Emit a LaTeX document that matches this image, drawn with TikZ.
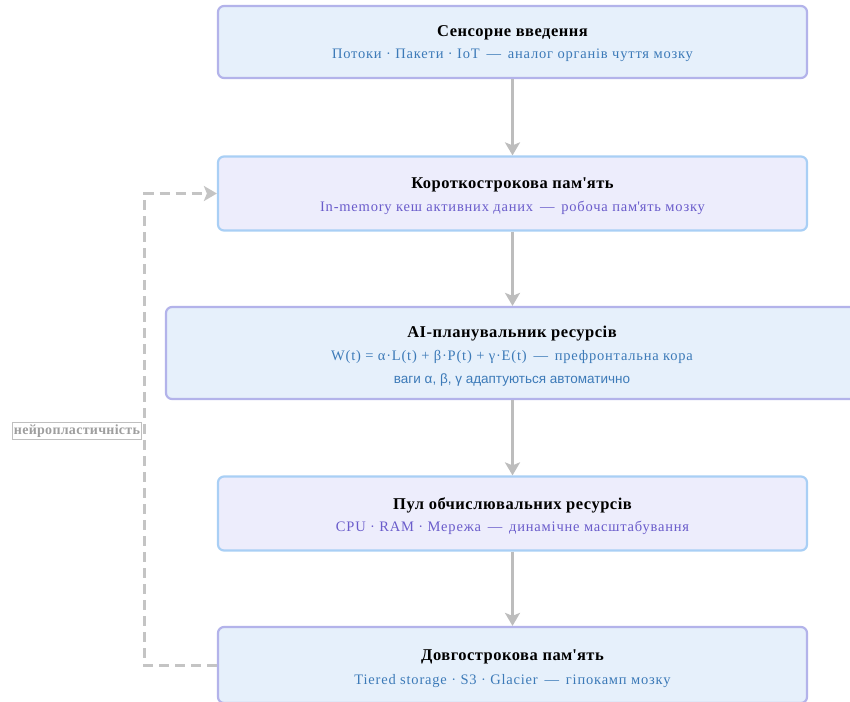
\documentclass[tikz,border=0pt]{standalone}
\usepackage{fontspec}
\setmainfont{Liberation Serif}
\newfontfamily\labelsans{Liberation Sans}
\usetikzlibrary{arrows.meta}

\definecolor{fillA}{HTML}{E6F0FB}
\definecolor{edgeA}{HTML}{B3B3EA}
\definecolor{fillB}{HTML}{EDEDFC}
\definecolor{edgeB}{HTML}{A9CFF5}
\definecolor{subBlue}{HTML}{3C7AB8}
\definecolor{subPurple}{HTML}{6A5CCB}
\definecolor{flowGrey}{HTML}{BDBDBD}
\definecolor{loopGrey}{HTML}{C4C4C4}

\newcommand{\apos}{\textquotesingle}

\tikzset{
  stageA/.style={draw=edgeA, fill=fillA, line width=2.2pt, rounded corners=6pt, inner sep=0pt},
  stageB/.style={draw=edgeB, fill=fillB, line width=2.2pt, rounded corners=6pt, inner sep=0pt},
  title/.style={font=\fontsize{16.5}{19}\selectfont\bfseries\addfontfeature{LetterSpace=3}, text=black, inner sep=0pt},
  subline/.style={font=\fontsize{14.5}{17}\selectfont\addfontfeature{LetterSpace=5.5}, inner sep=0pt},
  flow/.style={draw=flowGrey, line width=3pt, -{Stealth[length=13pt,width=15pt,inset=3pt]}},
  loop/.style={draw=loopGrey, line width=3pt, dash pattern=on 10pt off 6pt, -{Stealth[length=13pt,width=15pt,inset=3pt]}},
  looplabel/.style={draw=black!25, line width=0.7pt, fill=white, text=black!38, font=\fontsize{14}{16}\selectfont\bfseries\addfontfeature{LetterSpace=2}, inner xsep=1.5pt, inner ysep=2pt}
}

\begin{document}
\begin{tikzpicture}[x=1pt, y=-1pt]
  \useasboundingbox (0,0) rectangle (850,701);

  % stage boxes
  \node[stageA, minimum width=589pt, minimum height=72pt] (b1) at (512.5,42) {};
  \node[stageB, minimum width=589pt, minimum height=74pt] (b2) at (512.5,193.5) {};
  \node[stageA, minimum width=692pt, minimum height=92pt] (b3) at (512,353) {};
  \node[stageB, minimum width=589pt, minimum height=74pt] (b4) at (512.5,513.5) {};
  \node[stageA, minimum width=589pt, minimum height=76pt] (b5) at (512.5,665) {};

  % texts
  \node[title] (t1) at (512.5,33) {Сенсорне введення};
  \node[subline, text=subBlue] (s1) at (512.5,55) {Потоки · Пакети · IoT \,—\, аналог органів чуття мозку};

  \node[title] (t2) at (512.5,185) {Короткострокова пам\apos ять};
  \node[subline, text=subPurple] (s2) at (512.5,208) {In-memory кеш активних даних \,—\, робоча пам\apos ять мозку};

  \node[title] (t3) at (512,334) {AI-планувальник ресурсів};
  \node[subline, text=subBlue] (s3) at (512,357) {W(t) = α·L(t) + β·P(t) + γ·E(t) \,—\, префронтальна кора};
  \node[font=\labelsans\fontsize{13.5}{15}\selectfont, text=subBlue, inner sep=0pt] (n3) at (512,380) {ваги α, β, γ адаптуються автоматично};

  \node[title] (t4) at (512.5,505) {Пул обчислювальних ресурсів};
  \node[subline, text=subPurple] (s4) at (512.5,528) {CPU · RAM · Мережа \,—\, динамічне масштабування};

  \node[title] (t5) at (512.5,657) {Довгострокова пам\apos ять};
  \node[subline, text=subBlue] (s5) at (512.5,681) {Tiered storage · S3 · Glacier \,—\, гіпокамп мозку};

  % main flow
  \draw[flow] (b1.south -| b2.north) -- (b2.north);
  \draw[flow] (b2.south) -- (b2.south |- b3.north);
  \draw[flow] (b2.south |- b3.south) -- (b4.north);
  \draw[flow] (b4.south) -- (b5.north);

  % feedback loop
  \coordinate (lc) at (144,0);
  \draw[loop] (b5.west) -| (lc |- b2.west) -- (b2.west);
  \node[looplabel] (ll) at (77,431) {нейропластичність};
\end{tikzpicture}
\end{document}
